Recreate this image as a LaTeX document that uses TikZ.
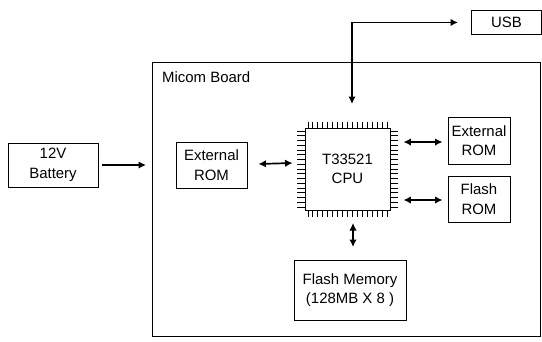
\documentclass[tikz,border=0pt]{standalone}
\usepackage{fontspec}
\setmainfont{Liberation Sans}
\usetikzlibrary{arrows.meta,calc}
\begin{document}
\begin{tikzpicture}[x=1bp,y=-1bp,
  box/.style={draw,line width=0.9bp,align=center,inner sep=0pt,font=\fontsize{15}{19.5}\selectfont},
  conn/.style={line width=1.7bp,{Latex[length=7.5bp,width=7.5bp]}-{Latex[length=7.5bp,width=7.5bp]}},
  oneway/.style={line width=1.7bp,-{Latex[length=7.5bp,width=7.5bp]}},
  pin/.style={line width=1bp}]
\useasboundingbox (0,0) rectangle (542,341);
\node[draw,line width=0.9bp,minimum width=388bp,minimum height=274bp,anchor=north west,inner sep=0pt] (board) at (152,62) {};
\node[anchor=west,inner sep=0pt,font=\fontsize{15}{18}\selectfont] (lbl) at (162,77) {Micom Board};
\node[box,minimum width=90bp,minimum height=44bp] (bat) at (53,165) {12V\\Battery};
\node[box,minimum width=71bp,minimum height=46bp] (ext1) at (211.5,165) {External\\ROM};
\node[box,minimum width=85bp,minimum height=82bp,font=\fontsize{15}{19}\selectfont] (cpu) at (347.5,169) {T33521\\CPU};
\foreach \i in {0,...,16}{
  \pgfmathsetmacro{\px}{305+3+\i*4.94}
  \pgfmathsetmacro{\py}{128+3+\i*4.75}
  \draw[pin] (\px,122) -- (\px,128);
  \draw[pin] (\px,210) -- (\px,217);
  \draw[pin] (297,\py) -- (305,\py);
  \draw[pin] (390,\py) -- (398,\py);
}
\node[box,minimum width=62bp,minimum height=47bp] (ext2) at (479,140.5) {External\\ROM};
\node[box,minimum width=62bp,minimum height=46bp] (from) at (479,199) {Flash\\ROM};
\node[box,minimum width=112bp,minimum height=60bp] (fmem) at (350,290) {Flash Memory\\(128MB X 8 )};
\node[box,minimum width=70bp,minimum height=24bp,anchor=north west] (usb) at (471,10) {USB};
\coordinate (drop) at (352,104);
\coordinate (memtop) at (353,247);
\coordinate (cpubot) at (353,223);
\draw[oneway,shorten <=4bp,shorten >=6bp] (bat.east) -- (bat.east -| board.west);
\draw[conn] ($(ext1.east)+(11,-1)$) -- ($(cpu.west)+(-12,-6)$);
\draw[conn] ($(cpu.east |- ext2.west)+(13,1.5)$) -- ($(ext2.west)+(-5,1.5)$);
\draw[conn] ($(cpu.east |- from.west)+(13,1)$) -- ($(from.west)+(-5,1)$);
\draw[conn] (cpubot) -- (memtop);
\draw[conn] (drop) |- ($(usb.west)+(-13,0)$);
\end{tikzpicture}
\end{document}
